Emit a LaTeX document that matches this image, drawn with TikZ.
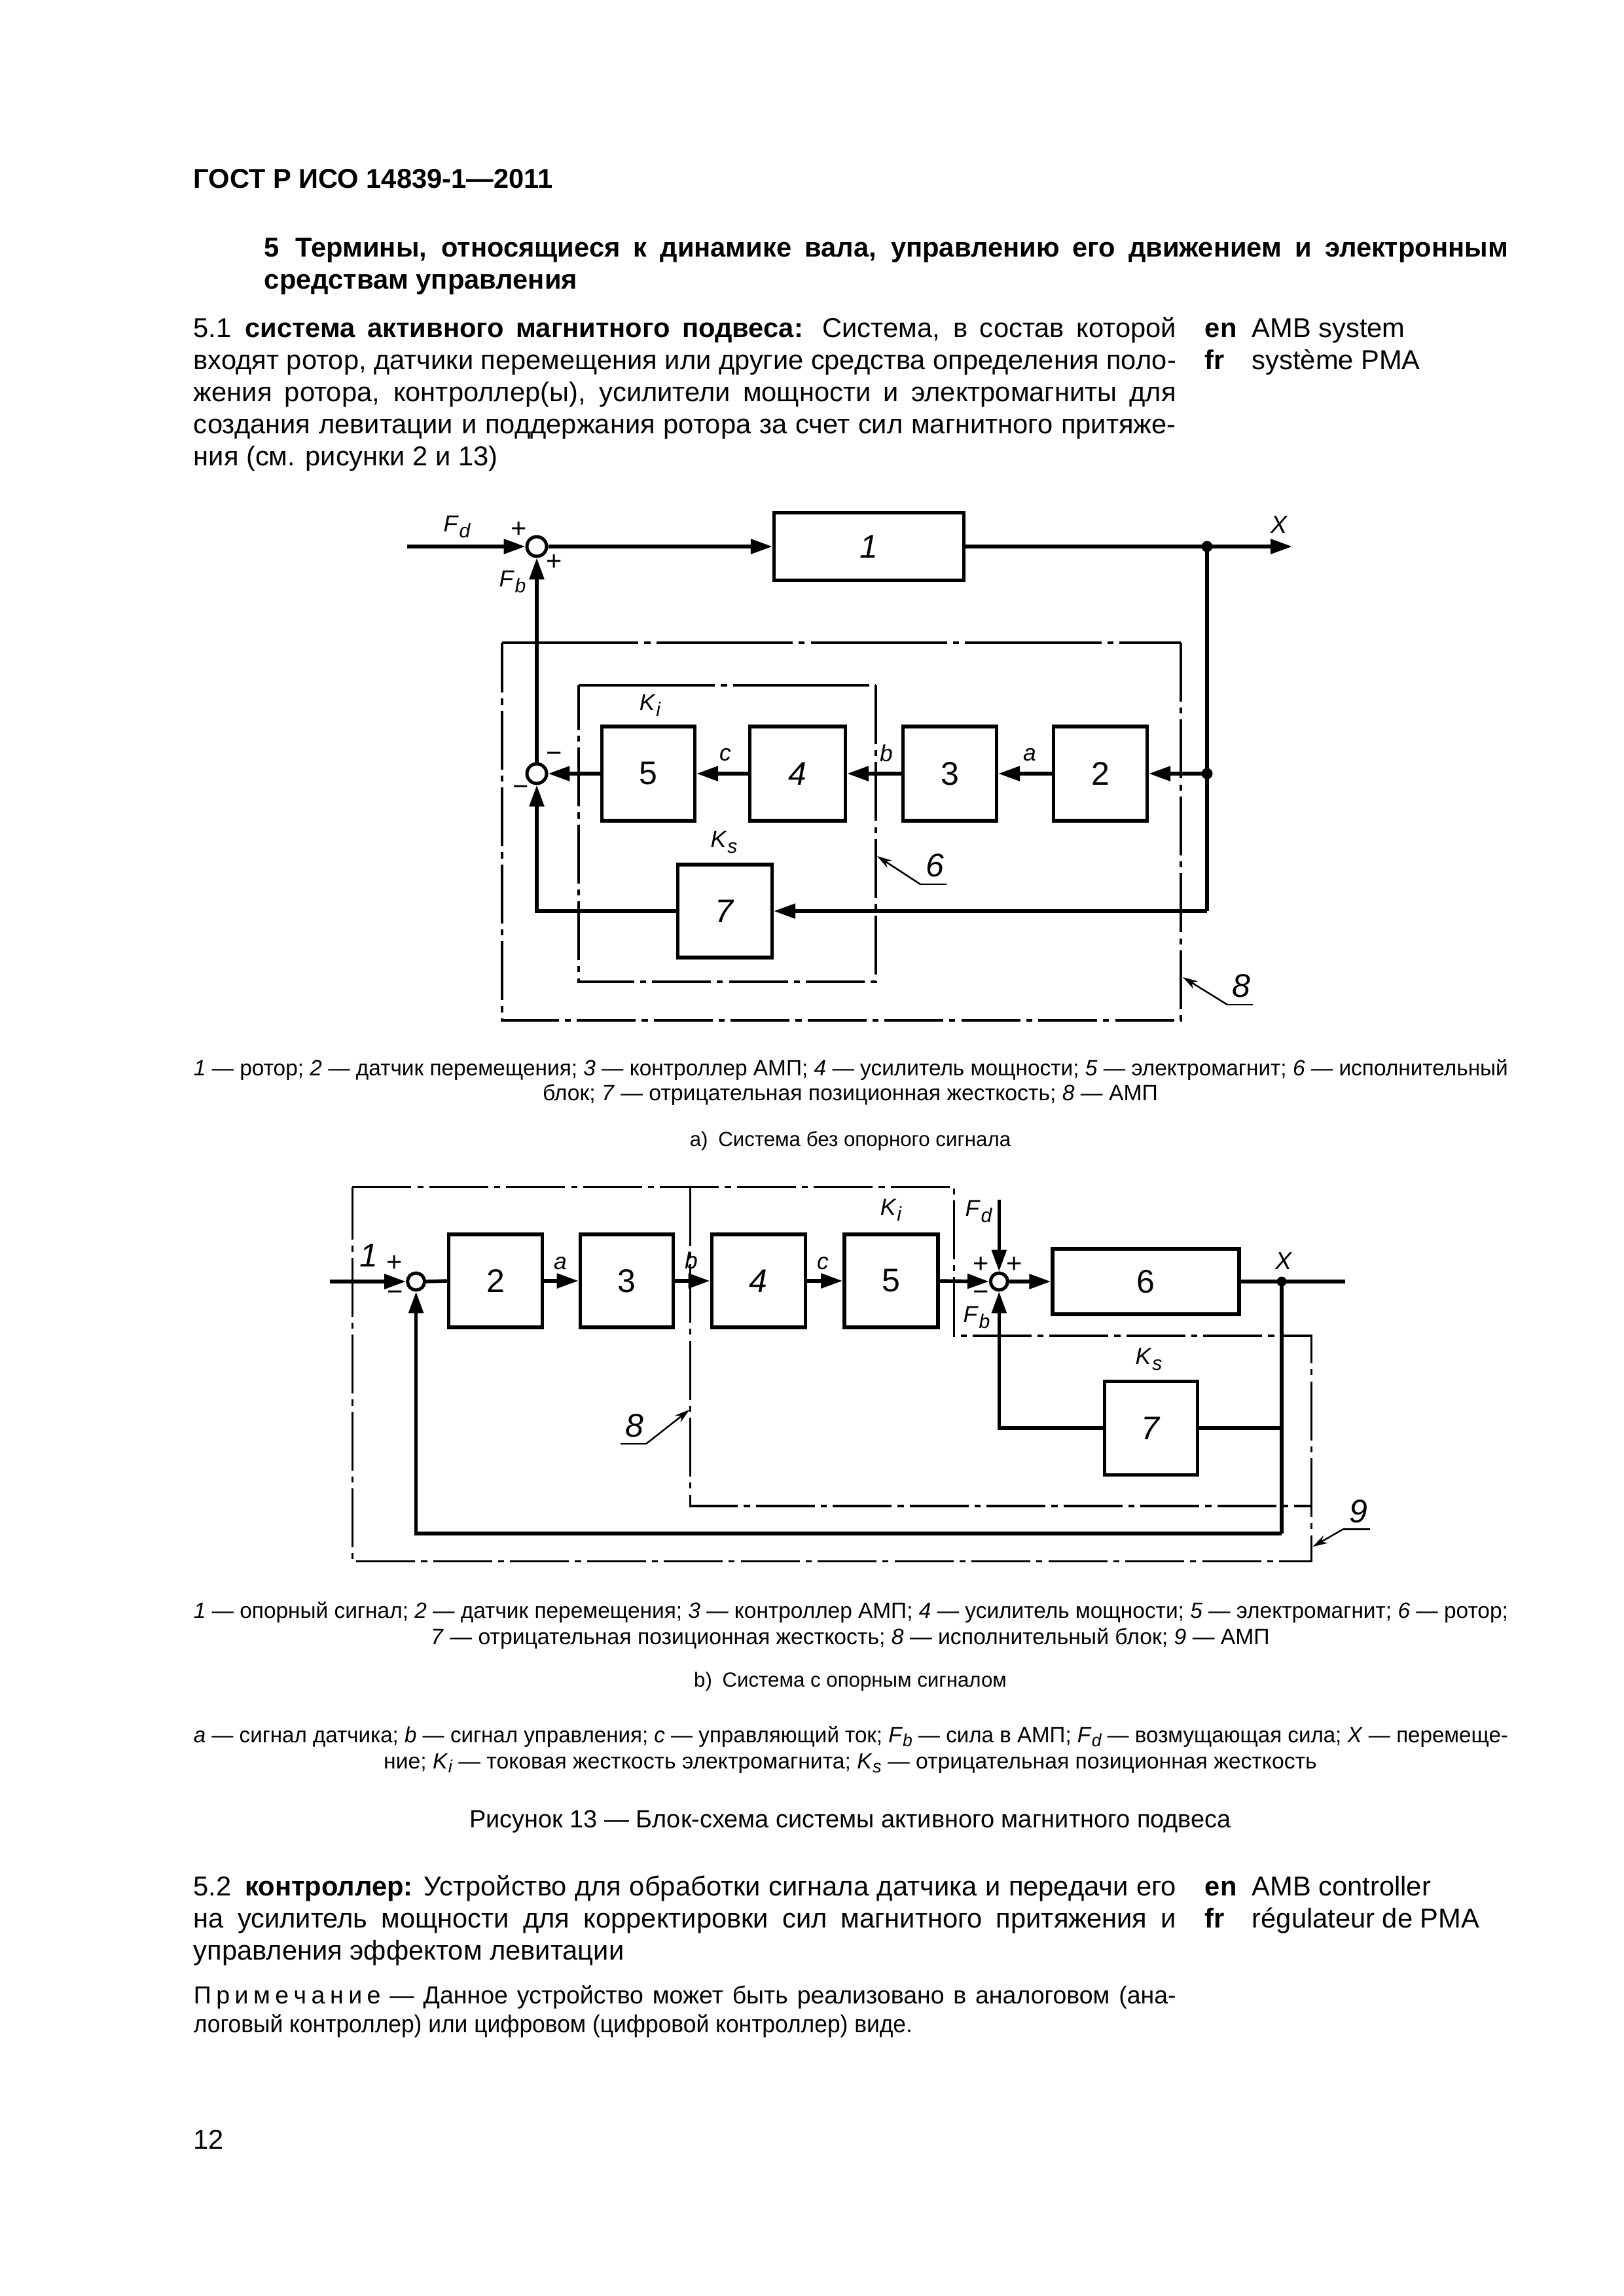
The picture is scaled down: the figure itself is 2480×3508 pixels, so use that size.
\documentclass[tikz,border=0pt]{standalone}
\usepackage{fontspec}
\setmainfont{Liberation Sans}
\usepackage{graphicx}
\usetikzlibrary{arrows.meta}
\newlength\jlw
\newcommand\jline[2]{\settowidth{\jlw}{#2}\ifdim\jlw<#1\relax\makebox[#1][s]{#2}\else\resizebox{#1}{\height}{#2}\fi}
\newcommand\ix[2]{\textit{#1}\kern0.02em\raisebox{-0.5ex}{\textit{\scalebox{0.85}{#2}}}}
\newcommand\tx[2]{\textit{#1}\raisebox{-0.35ex}{\textit{\scalebox{0.8}{#2}}}}
\newcommand\lsp{\hspace{0.2em}}
\def\p{0.24003pt}
\tikzset{
 ln/.style={line width=1.3pt},
 blk/.style={draw, line width=1.3pt, inner sep=0pt, font=\fontsize{12}{14}\selectfont},
 sumj/.style={circle, draw, line width=1.2pt, inner sep=0pt, fill=white},
 dotj/.style={circle, fill, inner sep=0pt},
 arr/.style={-{Triangle[length=7.9pt,width=5.3pt]}},
 dd/.style={line width=0.75pt, dash pattern=on 21.6pt off 2.2pt on 2.2pt off 2.2pt},
 ddl/.style={line width=0.75pt, dash pattern=on 50pt off 2.2pt on 2.2pt off 2.2pt},
 lead/.style={line width=0.6pt, -{Stealth[length=5.5pt,width=3.2pt]}},
 leadl/.style={line width=0.6pt},
 lbl/.style={font=\fontsize{8.5}{9}\selectfont, inner sep=0pt},
 xlbl/.style={font=\fontsize{9}{10}\selectfont\itshape, inner sep=0pt},
 sgn/.style={font=\fontsize{10}{11}\selectfont, inner sep=0pt},
 num/.style={font=\fontsize{12}{14}\selectfont\itshape, inner sep=0pt},
 txt/.style={anchor=base west, inner sep=0pt, font=\fontsize{10}{12}\selectfont},
 lcap/.style={anchor=base west, inner sep=0pt, font=\fontsize{8.1}{10}\selectfont},
 ccap/.style={anchor=base, inner sep=0pt, font=\fontsize{8.1}{10}\selectfont},
 scap/.style={anchor=base, inner sep=0pt, font=\fontsize{7.5}{9}\selectfont},
}
\begin{document}
\begin{tikzpicture}[x=0.24003pt, y=-0.24003pt]
\fill[white] (0,0) rectangle (2480,3508);
\useasboundingbox (0,0) rectangle (2480,3508);

% ---------------- text ----------------
\node[txt, font=\fontsize{10}{12}\selectfont\bfseries] (hdr) at (295,287) {ГОСТ Р ИСО 14839-1—2011};
\node[txt, font=\fontsize{10}{12}\selectfont\bfseries] (sec1) at (403,392) {\jline{456.1pt}{5\hspace{0.6em}Термины, относящиеся к динамике вала, управлению его движением и электронным}};
\node[txt, font=\fontsize{10}{12}\selectfont\bfseries] (sec2) at (403,441) {средствам управления};

\node[txt] (p1) at (295,515) {\jline{360.3pt}{5.1\hspace{0.5em}\textbf{система активного магнитного подвеса:} Система, в состав которой}};
\node[txt] (p2) at (295,564) {\jline{360.3pt}{входят ротор, датчики перемещения или другие средства определения поло-}};
\node[txt] (p3) at (295,613) {\jline{360.3pt}{жения ротора, контроллер(ы), усилители мощности и электромагниты для}};
\node[txt] (p4) at (295,662) {\jline{360.3pt}{создания левитации и поддержания ротора за счет сил магнитного притяже-}};
\node[txt] (p5) at (295,711) {ния (см. рисунки 2 и 13)};
\node[txt] (en1) at (1840,515) {\textbf{en}};
\node[txt] (en1t) at (1912,515) {AMB system};
\node[txt] (fr1) at (1840,564) {\textbf{fr}};
\node[txt] (fr1t) at (1912,564) {système PMA};

% ---------------- diagram a ----------------
\draw[ddl] (767,982) -- (1804,982);
\draw[dd] (1804,982) -- (1804,1559) -- (767,1559) -- (767,982);
\draw[ddl] (884,1047) -- (1338,1047);
\draw[dd] (1338,1047) -- (1338,1500) -- (884,1500) -- (884,1047);

\node[blk, minimum width=290*\p, minimum height=103*\p] (a1) at (1327.5,835) {\textit{1}};
\node[blk, minimum width=142*\p, minimum height=144*\p] (a5) at (990.5,1182) {5};
\node[blk, minimum width=146*\p, minimum height=144*\p] (a4) at (1218.5,1182) {\textit{4}};
\node[blk, minimum width=143*\p, minimum height=144*\p] (a3) at (1451,1182) {3};
\node[blk, minimum width=143*\p, minimum height=144*\p] (a2) at (1681,1182) {2};
\node[blk, minimum width=144*\p, minimum height=142*\p] (a7) at (1107.5,1392) {\textit{7}};
\node[sumj, minimum size=30*\p] (as1) at (820,835) {};
\node[sumj, minimum size=30*\p] (as2) at (820,1182) {};
\node[dotj, minimum size=17*\p] (adot1) at (1844,835) {};
\node[dotj, minimum size=17*\p] (adot2) at (1844,1182) {};
\coordinate (aFd) at (622,835);
\coordinate (aXe) at (1974,835);
\coordinate (acr) at (1844,1392);

\draw[ln,arr] (aFd) -- (as1.west);
\draw[ln,arr] (as1.east) -- (a1.west);
\draw[ln,arr] (a1.east) -- (aXe);
\draw[ln] (adot1.center) -- (acr);
\draw[ln,arr] (adot2.center) -- (a2.east);
\draw[ln,arr] (a2.west) -- (a3.east);
\draw[ln,arr] (a3.west) -- (a4.east);
\draw[ln,arr] (a4.west) -- (a5.east);
\draw[ln,arr] (a5.west) -- (as2.east);
\draw[ln,arr] (acr) -- (a7.east);
\draw[ln,arr] (a7.west) -| (as2.south);
\draw[ln,arr] (as2.north) -- (as1.south);

\node[lbl] (aLFd) at (698,805) {\ix{F}{d}};
\node[sgn] (aP1) at (793,809) {+};
\node[sgn] (aP2) at (847,859) {+};
\node[lbl] (aLFb) at (783,889) {\ix{F}{b}};
\node[xlbl] (aLX) at (1954,802) {X};
\node[lbl] (aLKi) at (993,1078) {\ix{K}{i}};
\node[lbl] (aLKs) at (1106,1287) {\ix{K}{s}};
\node[lbl] (aLc) at (1108,1153) {\textit{c}};
\node[lbl] (aLb) at (1354,1151) {\textit{b}};
\node[lbl] (aLa) at (1573,1153) {\textit{a}};
\node[sgn] (aM1) at (847,1157) {−};
\node[sgn] (aM2) at (796,1208) {−};

\coordinate (a6t) at (1340,1308);
\coordinate (a6k) at (1406,1351);
\coordinate (a6e) at (1446,1351);
\draw[leadl] (a6e) -- (a6k);
\draw[lead] (a6k) -- (a6t);
\node[num] (aN6) at (1428,1322) {6};
\coordinate (a8t) at (1807,1493);
\coordinate (a8k) at (1875,1535);
\coordinate (a8e) at (1914,1535);
\draw[leadl] (a8e) -- (a8k);
\draw[lead] (a8k) -- (a8t);
\node[num] (aN8) at (1896,1506) {8};

% captions a
\node[lcap] (ca1) at (295,1643) {\jline{482pt}{\textit{1} — ротор; \textit{2} — датчик перемещения; \textit{3} — контроллер АМП; \textit{4} — усилитель мощности; \textit{5} — электромагнит; \textit{6} — исполнительный}};
\node[ccap] (ca2) at (1299,1681) {блок; \textit{7} — отрицательная позиционная жесткость; \textit{8} — АМП};
\node[scap] (ca3) at (1299,1751) {а)\hspace{0.5em}Система без опорного сигнала};

% ---------------- diagram b ----------------
\draw[dd] (538.4,1813.6) -- (1457.9,1813.6) -- (1457.9,2041) -- (2003.7,2041) -- (2003.7,2385.8) -- (538.4,2385.8) -- cycle;
\draw[dd] (1054.8,1813.6) -- (1054.8,2301) -- (2003.7,2301);

\node[blk, minimum width=143*\p, minimum height=142*\p] (b2) at (757,1957) {2};
\node[blk, minimum width=142*\p, minimum height=142*\p] (b3) at (957.3,1957) {3};
\node[blk, minimum width=143*\p, minimum height=142*\p] (b4) at (1158.7,1957) {\textit{4}};
\node[blk, minimum width=143*\p, minimum height=142*\p] (b5) at (1361.3,1957) {5};
\node[blk, minimum width=285*\p, minimum height=100*\p] (b6) at (1750.5,1958) {6};
\node[blk, minimum width=142*\p, minimum height=143*\p] (b7) at (1758.5,2182) {\textit{7}};
\node[sumj, minimum size=26*\p] (bs1) at (635.6,1958) {};
\node[sumj, minimum size=26*\p] (bs2) at (1526.3,1958) {};
\node[dotj, minimum size=15*\p] (bdot) at (1958,1958) {};
\coordinate (bin) at (504,1958);
\coordinate (bout) at (2055,1958);
\coordinate (bFd) at (1526.3,1833);
\coordinate (bbr) at (1958,2343);
\coordinate (b7r) at (1958,2182);

\draw[ln,arr] (bin) -- (bs1.west);
\draw[ln] (bs1.east) -- (b2.west);
\draw[ln,arr] (b2.east) -- (b3.west);
\draw[ln,arr] (b3.east) -- (b4.west);
\draw[ln,arr] (b4.east) -- (b5.west);
\draw[ln,arr] (b5.east) -- (bs2.west);
\draw[ln,arr] (bs2.east) -- (b6.west);
\draw[ln] (b6.east) -- (bout);
\draw[ln,arr] (bFd) -- (bs2.north);
\draw[ln,arr] (b7.west) -| (bs2.south);
\draw[ln] (b7.east) -- (b7r);
\draw[ln] (bdot.center) -- (bbr);
\draw[ln,arr] (bbr) -| (bs1.south);

\node[num] (bN1) at (563,1918) {1};
\node[sgn] (bP1) at (603,1930) {+};
\node[sgn] (bM1) at (604,1980) {−};
\node[lbl] (bLa) at (856,1930) {\textit{a}};
\node[lbl] (bLb) at (1056,1926) {\textit{b}};
\node[lbl] (bLc) at (1257,1930) {\textit{c}};
\node[lbl] (bLKi) at (1361,1849) {\ix{K}{i}};
\node[lbl] (bLFd) at (1495,1851) {\ix{F}{d}};
\node[sgn] (bP2) at (1499,1932) {+};
\node[sgn] (bP3) at (1550,1932) {+};
\node[sgn] (bM2) at (1499,1980) {−};
\node[lbl] (bLFb) at (1492,2013) {\ix{F}{b}};
\node[xlbl] (bLX) at (1961,1927) {X};
\node[lbl] (bLKs) at (1755,2077) {\ix{K}{s}};

\coordinate (b8t) at (1053.6,2153.7);
\coordinate (b8k) at (987,2206);
\coordinate (b8e) at (948,2206);
\draw[leadl] (b8e) -- (b8k);
\draw[lead] (b8k) -- (b8t);
\node[num] (bN8) at (969.7,2178) {8};
\coordinate (b9t) at (2005.3,2363.2);
\coordinate (b9k) at (2052,2336.3);
\coordinate (b9e) at (2092.6,2336.3);
\draw[leadl] (b9e) -- (b9k);
\draw[lead] (b9k) -- (b9t);
\node[num] (bN9) at (2075.6,2309) {9};

% captions b
\node[lcap] (cb1) at (295,2472) {\jline{482pt}{\textit{1} — опорный сигнал; \textit{2} — датчик перемещения; \textit{3} — контроллер АМП; \textit{4} — усилитель мощности; \textit{5} — электромагнит; \textit{6} — ротор;}};
\node[ccap] (cb2) at (1299,2512) {\textit{7} — отрицательная позиционная жесткость; \textit{8} — исполнительный блок; \textit{9} — АМП};
\node[scap] (cb3) at (1299,2577) {b)\hspace{0.5em}Система с опорным сигналом};
\node[lcap] (cl1) at (295,2662) {\jline{482pt}{\textit{a} — сигнал датчика; \textit{b} — сигнал управления; \textit{c} — управляющий ток; \tx{F}{b} — сила в АМП; \tx{F}{d} — возмущающая сила; \textit{X} — перемеще-}};
\node[ccap] (cl2) at (1299,2702) {ние; \tx{K}{i} — токовая жесткость электромагнита; \tx{K}{s} — отрицательная позиционная жесткость};
\node[ccap, font=\fontsize{9.1}{11}\selectfont] (cfig) at (1299,2792) {Рисунок 13 — Блок-схема системы активного магнитного подвеса};

% ---------------- 5.2 ----------------
\node[txt] (q1) at (295,2896) {\jline{360.3pt}{5.2\hspace{0.5em}\textbf{контроллер:} Устройство для обработки сигнала датчика и передачи его}};
\node[txt] (q2) at (295,2945) {\jline{360.3pt}{на усилитель мощности для корректировки сил магнитного притяжения и}};
\node[txt] (q3) at (295,2994) {управления эффектом левитации};
\node[txt] (en2) at (1840,2896) {\textbf{en}};
\node[txt] (en2t) at (1912,2896) {AMB controller};
\node[txt] (fr2) at (1840,2945) {\textbf{fr}};
\node[txt] (fr2t) at (1912,2945) {régulateur de PMA};
\node[txt, font=\fontsize{9}{11}\selectfont] (n1) at (295,3061) {\jline{360.3pt}{П\lsp р\lsp и\lsp м\lsp е\lsp ч\lsp а\lsp н\lsp и\lsp е — Данное устройство может быть реализовано в аналоговом (ана-}};
\node[txt, font=\fontsize{9}{11}\selectfont] (n2) at (295,3105) {\resizebox{263.6pt}{\height}{логовый контроллер) или цифровом (цифровой контроллер) виде.}};
\node[txt] (pg) at (295,3283) {12};
\end{tikzpicture}
\end{document}
